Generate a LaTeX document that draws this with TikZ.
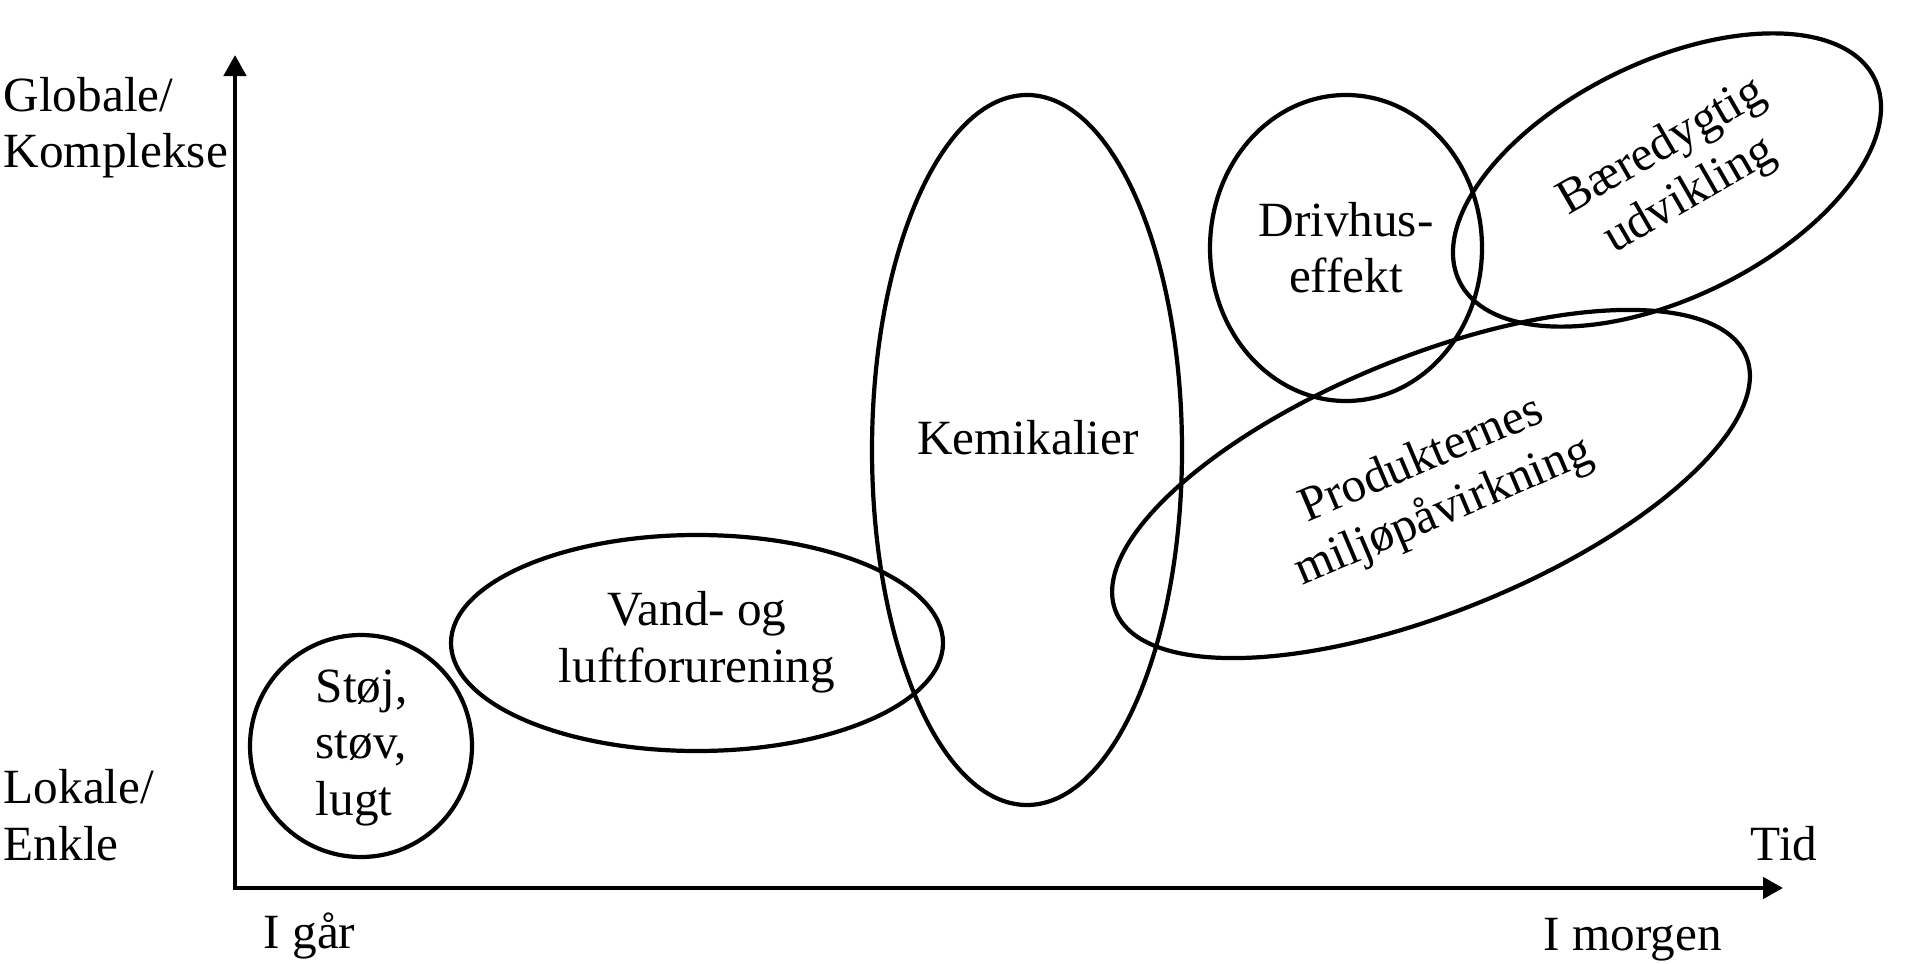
\documentclass[tikz,border=0pt]{standalone}
\usepackage{fontspec}
\setmainfont{Liberation Serif}
\usetikzlibrary{arrows.meta}

\begin{document}
\begin{tikzpicture}[x=0.01cm, y=-0.01cm,
    every node/.style={inner sep=0pt, font=\fontsize{14pt}{16pt}\selectfont},
    axis/.style={line width=1.3pt, {Triangle[length=0.21cm,width=0.22cm]}-{Triangle[length=0.2cm,width=0.21cm]}},
    blob/.style={line width=1.2pt}]
    \useasboundingbox (0,0) rectangle (1915,964);
    \coordinate (O) at (235,888);
    \coordinate (ytop) at (235,55);
    \coordinate (xend) at (1783,888);
    \draw[axis] (ytop) -- (O) -- (xend);
    \node[anchor=base west, align=left] (glob) at (3,168) {Globale/\\Komplekse};
    \node[anchor=base west, align=left] (lok) at (3,860) {Lokale/\\Enkle};
    \node[anchor=base west] (igaar) at (263,948) {I går};
    \node[anchor=base west] (imorgen) at (1543,950) {I morgen};
    \node[anchor=base west] (tid) at (1750,860) {Tid};
    \coordinate (stoj) at (361,746);
    \coordinate (vand) at (697,643);
    \coordinate (kemi) at (1027,450);
    \coordinate (driv) at (1346,248);
    \coordinate (baer) at (1667,180);
    \coordinate (prod) at (1431,484);
    \draw[blob] (stoj) circle [radius=111];
    \draw[blob] (vand) ellipse [x radius=246, y radius=108];
    \draw[blob] (kemi) ellipse [x radius=155, y radius=355];
    \draw[blob] (driv) ellipse [x radius=136, y radius=153];
    \draw[blob, rotate around={26:(baer)}] (baer) ellipse [x radius=231, y radius=118];
    \draw[blob, rotate around={22:(prod)}] (prod) ellipse [x radius=340, y radius=128];
    \node[anchor=base west, align=left] (stojtxt) at (315,815) {Støj,\\støv,\\lugt};
    \node[anchor=base, align=center] (vandtxt) at (697,682) {Vand- og\\luftforurening};
    \node[anchor=base] (kemitxt) at (1028,455) {Kemikalier};
    \node[anchor=base, align=center] (drivtxt) at (1346,293) {Drivhus-\\effekt};
    \node[align=center, rotate=30] (baertxt) at (1676,172) {Bæredygtig\\udvikling};
    \node[align=center, rotate=23] (prodtxt) at (1433,487) {Produkternes\\miljøpåvirkning};
\end{tikzpicture}
\end{document}
